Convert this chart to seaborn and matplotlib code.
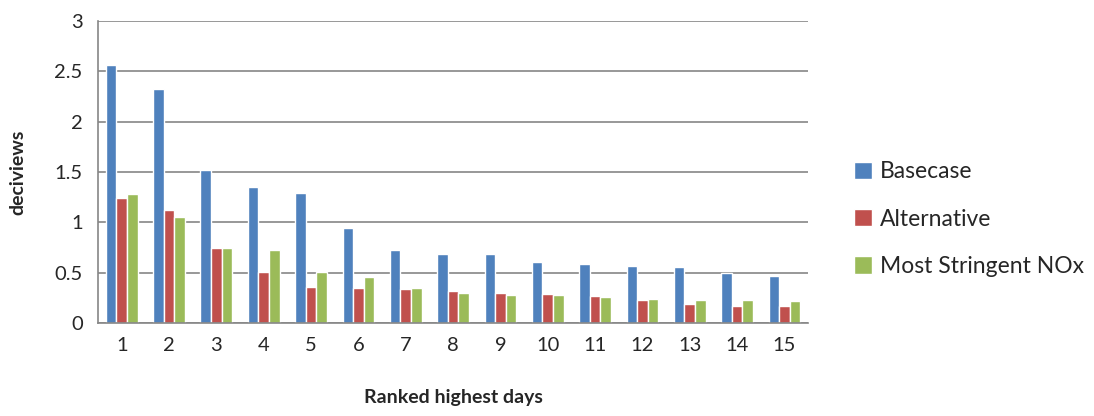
import numpy as np
import pandas as pd
import matplotlib
matplotlib.use("Agg")
import matplotlib.pyplot as plt
import seaborn as sns
from matplotlib.ticker import FixedLocator

days = [str(i) for i in range(1, 16)]
basecase = [2.56, 2.32, 1.52, 1.35, 1.29, 0.94, 0.73, 0.69, 0.69, 0.61, 0.59, 0.57, 0.56, 0.50, 0.47]
alternative = [1.24, 1.12, 0.74, 0.51, 0.36, 0.35, 0.34, 0.32, 0.30, 0.29, 0.27, 0.23, 0.19, 0.17, 0.17]
stringent = [1.28, 1.05, 0.74, 0.73, 0.51, 0.46, 0.35, 0.30, 0.28, 0.28, 0.26, 0.24, 0.23, 0.23, 0.22]
series = ["Basecase", "Alternative", "Most Stringent NOx"]
colors = ["#4F81BD", "#C0504D", "#9BBB59"]

df = pd.DataFrame({"day": days * 3,
                   "value": basecase + alternative + stringent,
                   "series": np.repeat(series, len(days))})

sns.set_style("white")
plt.rcParams['font.family'] = ['Lato', 'DejaVu Sans']

fig = plt.figure(figsize=(10.94, 4.16), dpi=100)
ax = fig.add_axes([0.0896, 0.2236, 0.649, 0.7259])

sns.barplot(data=df, x="day", y="value", hue="series", palette=colors,
            width=0.67, gap=0, ax=ax, saturation=1, errorbar=None)

ax.set_ylim(0, 3)
ax.set_xlim(-0.5, 14.5)
ax.set_yticks(np.arange(0, 3.01, 0.5))
ax.set_yticklabels(["0", "0.5", "1", "1.5", "2", "2.5", "3"])
ax.yaxis.grid(True, color="#868686", linewidth=1.2)
ax.set_axisbelow(True)

for s in ["top", "right"]:
    ax.spines[s].set_visible(False)
for s in ["left", "bottom"]:
    ax.spines[s].set_color("#868686")
    ax.spines[s].set_linewidth(1.2)

ax.tick_params(axis="x", which="major", length=0, labelsize=14.5, pad=10)
ax.xaxis.set_minor_locator(FixedLocator(np.arange(-0.5, 15, 1)))
ax.tick_params(axis="x", which="minor", length=6, width=1.2, color="#868686", direction="out")
ax.tick_params(axis="y", length=5, width=1.2, color="#868686", direction="out", labelsize=14.5, pad=6)

ax.set_xlabel("Ranked highest days", fontsize=14, fontweight="bold", labelpad=25)
ax.set_ylabel("deciviews", fontsize=14, fontweight="bold", labelpad=20)

handles, labels = ax.get_legend_handles_labels()
ax.legend(handles, labels, loc="center left", bbox_to_anchor=(1.035, 0.344),
          frameon=False, fontsize=16.5, handlelength=0.8, handleheight=0.8,
          handletextpad=0.35, labelspacing=1.15)

fig.savefig("out.png", dpi=100)
